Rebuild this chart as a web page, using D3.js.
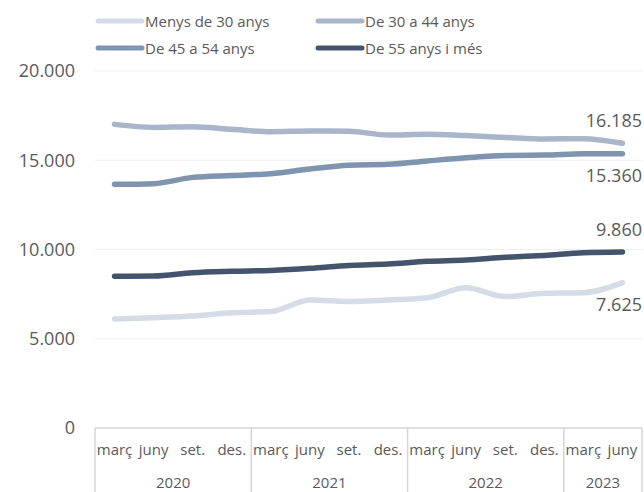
<!DOCTYPE html>
<html><head><meta charset="utf-8">
<script src="https://cdn.jsdelivr.net/npm/d3@7"></script>
<style>
html,body{margin:0;padding:0;background:#fff;}
svg{display:block;font-family:"Open Sans",sans-serif;}
</style></head>
<body><svg id="c" width="644" height="492"></svg>
<script>
const months = ["març","juny","set.","des.","març","juny","set.","des.","març","juny","set.","des.","març","juny"];
const years = ["2020","2020","2020","2020","2021","2021","2021","2021","2022","2022","2022","2022","2023","2023"];
const seriesNames = ["Menys de 30 anys","De 30 a 44 anys","De 45 a 54 anys","De 55 anys i més"];
const colors = ["#d5dce6","#a9b5c8","#7f94ae","#44546c"];
const under30 = [6105,6180,6275,6460,6520,7170,7080,7170,7300,7860,7360,7545,7580,8140];
const from30to44 = [17010,16840,16880,16730,16600,16640,16630,16410,16450,16380,16280,16190,16210,15950];
const from45to54 = [13650,13690,14040,14150,14250,14510,14720,14770,14960,15140,15270,15290,15370,15360];
const from55 = [8500,8515,8700,8780,8830,8945,9110,9190,9340,9410,9560,9670,9820,9860];
const endLabels = [7625,16185,15360,9860];
const endLabelAbove = [false,true,false,true];
const yTicks = [0,5000,10000,15000,20000];

const seriesValues = [under30, from30to44, from45to54, from55];
const loc = d3.formatLocale({decimal:",",thousands:".",grouping:[3],currency:["","€"]});
const fmt = loc.format(",.0f");

const svg = d3.select("#c");
const mLeft = 95, mRight = 642, mTop = 71, mBottom = 428;
const idx = d3.range(months.length);
const x = d3.scaleBand().domain(idx).range([mLeft,mRight]).padding(0);
const y = d3.scaleLinear().domain([0,20000]).range([mBottom,mTop]);
const cx = i => x(i) + x.bandwidth()/2;

// gridlines
svg.append("g").selectAll("line").data(yTicks.filter(d=>d>0)).join("line")
  .attr("x1",mLeft).attr("x2",mRight).attr("y1",d=>y(d)).attr("y2",d=>y(d))
  .attr("stroke","#efefef").attr("stroke-width",1.2);

// y axis labels
const yAxis = d3.axisLeft(y).tickValues(yTicks).tickFormat(fmt).tickSize(0).tickPadding(20);
const ya = svg.append("g").attr("transform",`translate(${mLeft},0)`).call(yAxis);
ya.select(".domain").remove();
ya.selectAll("text").attr("font-size",18).attr("fill","#5a5a5a").attr("font-family","Open Sans");

// lines
const line = d3.line().x((d,i)=>cx(i)).y(d=>y(d)).curve(d3.curveMonotoneX);
svg.append("g").selectAll("path").data(seriesValues).join("path")
  .attr("d",line).attr("fill","none")
  .attr("stroke",(d,i)=>colors[i]).attr("stroke-width",5.5)
  .attr("stroke-linecap","round").attr("stroke-linejoin","round");

// end labels
const last = months.length-1;
svg.append("g").selectAll("text").data(seriesValues).join("text")
  .attr("x",mRight).attr("text-anchor","end")
  .attr("y",(d,i)=> endLabelAbove[i] ? y(d[last]) - 16 : y(d[last]) + 28)
  .attr("font-size",18).attr("fill","#5a5a5a")
  .text((d,i)=>fmt(endLabels[i]));

// x axis box
const ax = svg.append("g").attr("stroke","#d6d6d6").attr("stroke-width",1.5);
ax.append("line").attr("x1",mLeft).attr("x2",mRight).attr("y1",mBottom).attr("y2",mBottom);
const yearStarts = idx.filter(i => i===0 || years[i]!==years[i-1]);
const seps = yearStarts.map(i=>x(i)).concat([mRight]);
ax.selectAll("line.sep").data(seps).join("line").attr("class","sep")
  .attr("x1",d=>d).attr("x2",d=>d).attr("y1",mBottom).attr("y2",492);

svg.append("g").selectAll("text").data(months).join("text")
  .attr("x",(d,i)=>cx(i)).attr("y",455).attr("text-anchor","middle")
  .attr("font-size",15).attr("fill","#5a5a5a").text(d=>d);

const yearGroups = yearStarts.map((s,k)=>{
  const e = k<yearStarts.length-1 ? yearStarts[k+1] : months.length;
  return {year: years[s], x0: x(s), x1: e<months.length ? x(e) : mRight};
});
svg.append("g").selectAll("text").data(yearGroups).join("text")
  .attr("x",d=>(d.x0+d.x1)/2).attr("y",488).attr("text-anchor","middle")
  .attr("font-size",15).attr("fill","#5a5a5a").text(d=>d.year);

// legend
const legPos = [[98,21],[318,21],[98,48],[318,48]];
const lg = svg.append("g").selectAll("g").data(seriesNames).join("g")
  .attr("transform",(d,i)=>`translate(${legPos[i][0]},${legPos[i][1]})`);
lg.append("line").attr("x1",0).attr("x2",44).attr("y1",0).attr("y2",0)
  .attr("stroke",(d,i)=>colors[i]).attr("stroke-width",5).attr("stroke-linecap","round");
lg.append("text").attr("x",47).attr("y",6).attr("font-size",15).attr("fill","#5a5a5a").text(d=>d);
</script></body></html>
